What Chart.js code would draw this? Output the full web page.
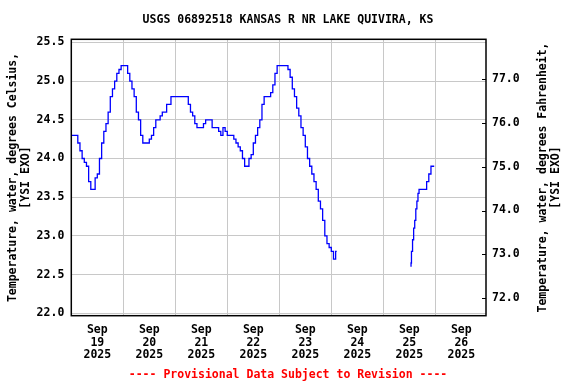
<!DOCTYPE html>
<html>
<head>
<meta charset="utf-8">
<script src="https://cdn.jsdelivr.net/npm/chart.js@4.4.1/dist/chart.umd.min.js"></script>
<style>
    body { margin: 0; background: #ffffff; }
    #ChartWrapper { width: 576px; height: 384px; }
</style>
</head>
<body>
<div id="ChartWrapper"><canvas id="Chart" width="576" height="384"></canvas></div>
<script>
// часы от 00:00 19 сентября
var hours = [
    0, 0.6, 1, 2, 3, 4, 5, 6, 7, 8, 9, 10, 11, 12, 13, 14, 15, 16, 17, 18, 19,
    20, 21, 22, 23, 24, 25, 26, 27, 28, 29, 30, 31, 32, 33, 34, 35, 36, 37, 38, 39,
    40, 41, 42, 43, 44, 45, 46, 47, 48, 49, 50, 51, 52, 53, 54, 55, 56, 57, 58, 59,
    60, 61, 62, 63, 64, 65, 66, 67, 68, 69, 70, 71, 72, 73, 74, 75, 76, 77, 78, 79,
    80, 81, 82, 83, 84, 85, 86, 87, 88, 89, 90, 91, 92, 93, 94, 95, 96, 97, 98, 99,
    100, 101, 102, 103, 104, 105, 106, 107, 108, 109, 110, 111, 112, 113, 114, 115, 116, 117, 118, 119,
    120, 121, 122, 122.5,
    140,
    156.8, 157, 157.5, 158, 158.5, 159, 159.5, 160, 160.5, 161, 162, 163, 164, 165, 166, 167, 167.5
];
var tempC = [
    24.4, 24.3, 24.3, 24.3, 24.3, 24.2, 24.1, 24.0, 23.95, 23.9, 23.7, 23.6, 23.6, 23.75, 23.8, 24.0, 24.2, 24.35, 24.45, 24.6, 24.8,
    24.9, 25.0, 25.1, 25.15, 25.2, 25.2, 25.2, 25.1, 25.0, 24.9, 24.8, 24.6, 24.5, 24.3, 24.2, 24.2, 24.2, 24.25, 24.3, 24.4,
    24.5, 24.5, 24.55, 24.6, 24.6, 24.7, 24.7, 24.8, 24.8, 24.8, 24.8, 24.8, 24.8, 24.8, 24.8, 24.7, 24.6, 24.55, 24.45, 24.4,
    24.4, 24.4, 24.45, 24.5, 24.5, 24.5, 24.4, 24.4, 24.4, 24.35, 24.3, 24.4, 24.35, 24.3, 24.3, 24.3, 24.25, 24.2, 24.15, 24.1,
    24.0, 23.9, 23.9, 24.0, 24.05, 24.2, 24.3, 24.4, 24.5, 24.7, 24.8, 24.8, 24.8, 24.85, 24.95, 25.1, 25.2, 25.2, 25.2, 25.2,
    25.2, 25.15, 25.05, 24.9, 24.8, 24.65, 24.55, 24.4, 24.3, 24.15, 24.0, 23.9, 23.8, 23.7, 23.6, 23.45, 23.35, 23.2, 23.0, 22.9,
    22.85, 22.8, 22.7, 22.8,
    null,
    22.6, 22.65, 22.8, 22.95, 23.1, 23.2, 23.35, 23.45, 23.55, 23.6, 23.6, 23.6, 23.6, 23.7, 23.8, 23.9, 23.9
];
var dayLabels = ['19', '20', '21', '22', '23', '24', '25', '26'];
var monthLabel = 'Sep';
var yearLabel = '2025';
var celsiusTicks = [22.0, 22.5, 23.0, 23.5, 24.0, 24.5, 25.0, 25.5];
var fahrenheitTicks = [72, 73, 74, 75, 76, 77];
var rightTitle = ['Temperature, water, degrees Fahrenheit,', '[YSI EXO]'];

var fontFamily = '"DejaVu Sans Mono", "Liberation Mono", monospace';
var myChart;

/**
 * рамка вокруг области графика, засечки правой оси внутрь
 * и подпись правой оси (повернута так же, как левая)*/
var framePlugin = {
    id: 'frame',
    afterDraw: function (chart) {
        var ctx = chart.ctx;
        var a = chart.chartArea;
        var yF = chart.scales.yF;
        ctx.save();
        ctx.strokeStyle = '#000000';
        ctx.lineWidth = 1.5;
        ctx.strokeRect(a.left, a.top, a.right - a.left, a.bottom - a.top);
        ctx.lineWidth = 1;
        ctx.beginPath();
        for (var i = 0; i < yF.ticks.length; i++) {
            var y = Math.round(yF.getPixelForValue(yF.ticks[i].value)) + 0.5;
            ctx.moveTo(a.right - 4, y);
            ctx.lineTo(a.right, y);
        }
        ctx.stroke();

        ctx.fillStyle = '#000000';
        ctx.font = 'bold 11.5px ' + fontFamily;
        ctx.textAlign = 'center';
        ctx.textBaseline = 'middle';
        var cy = (a.top + a.bottom) / 2;
        for (var j = 0; j < rightTitle.length; j++) {
            ctx.save();
            ctx.translate(543.5 + j * 13, cy);
            ctx.rotate(-Math.PI / 2);
            ctx.fillText(rightTitle[j], 0, 0);
            ctx.restore();
        }
        ctx.restore();
    }
};

function letsgo() {
    var points = [];
    for (var i = 0; i < hours.length; i++) {
        points.push({ x: hours[i], y: tempC[i] });
    }
    var tickFont = { family: fontFamily, size: 11.5, weight: 'bold', lineHeight: 1.1 };
    var titleFont = { family: fontFamily, size: 11.5, weight: 'bold', lineHeight: 1.13 };

    const config = {
        type: 'line',
        data: {
            datasets: [{
                data: points,
                borderColor: '#0000ff',
                borderWidth: 1.3,
                pointRadius: 0,
                stepped: 'after',
                spanGaps: false,
                yAxisID: 'y'
            }]
        },
        options: {
            responsive: false,
            animation: false,
            layout: { padding: 0 },
            plugins: {
                legend: { display: false },
                tooltip: { enabled: false },
                title: {
                    display: true,
                    text: 'USGS 06892518 KANSAS R NR LAKE QUIVIRA, KS',
                    color: '#000000',
                    font: { family: fontFamily, size: 11.5, weight: 'bold', lineHeight: 1.2 },
                    padding: { top: 13.1, bottom: 12.4 }
                },
                subtitle: {
                    display: true,
                    position: 'bottom',
                    text: '---- Provisional Data Subject to Revision ----',
                    color: '#ff0000',
                    font: { family: fontFamily, size: 11.5, weight: 'bold', lineHeight: 1.2 },
                    padding: { top: 2.4, bottom: 2.1 }
                }
            },
            scales: {
                x: {
                    type: 'linear',
                    min: 0,
                    max: 191.4,
                    afterBuildTicks: function (scale) {
                        var t = [];
                        for (var h = 0; h <= 180; h += 12) t.push({ value: h });
                        scale.ticks = t;
                    },
                    afterFit: function (scale) { scale.height = 50; },
                    border: { display: false },
                    grid: {
                        drawTicks: false,
                        lineWidth: 1,
                        color: function (c) {
                            if (c.tick && c.tick.value % 24 === 0 && c.tick.value > 0) return '#c8c8c8';
                            return 'rgba(0,0,0,0)';
                        }
                    },
                    ticks: {
                        autoSkip: false,
                        maxRotation: 0,
                        padding: 8,
                        color: '#000000',
                        font: tickFont,
                        callback: function (value) {
                            if (value % 24 !== 12) return '';
                            return [monthLabel, dayLabels[(value - 12) / 24], yearLabel];
                        }
                    }
                },
                y: {
                    position: 'left',
                    min: 21.969,
                    max: 25.54,
                    afterBuildTicks: function (scale) {
                        scale.ticks = celsiusTicks.map(function (v) { return { value: v }; });
                    },
                    afterFit: function (scale) { scale.width = 71.3; },
                    border: { display: false },
                    grid: { color: '#c8c8c8', lineWidth: 1, drawTicks: false },
                    ticks: {
                        padding: 7,
                        color: '#000000',
                        font: tickFont,
                        callback: function (v) { return Number(v).toFixed(1); }
                    },
                    title: {
                        display: true,
                        text: ['Temperature, water, degrees Celsius,', '[YSI EXO]'],
                        color: '#000000',
                        font: titleFont,
                        padding: { top: 6.5, bottom: 0 }
                    }
                },
                yF: {
                    position: 'right',
                    min: 71.595,
                    max: 77.914,
                    afterBuildTicks: function (scale) {
                        scale.ticks = fahrenheitTicks.map(function (v) { return { value: v }; });
                    },
                    afterFit: function (scale) { scale.width = 90; },
                    border: { display: false },
                    grid: { drawOnChartArea: false, drawTicks: false },
                    ticks: {
                        padding: 6,
                        color: '#000000',
                        font: tickFont,
                        callback: function (v) { return Number(v).toFixed(1); }
                    },
                    title: { display: false }
                }
            }
        },
        plugins: [framePlugin]
    };
    var canvas = document.getElementById('Chart');
    myChart = new Chart(canvas, config);
}

letsgo();
</script>
</body>
</html>
